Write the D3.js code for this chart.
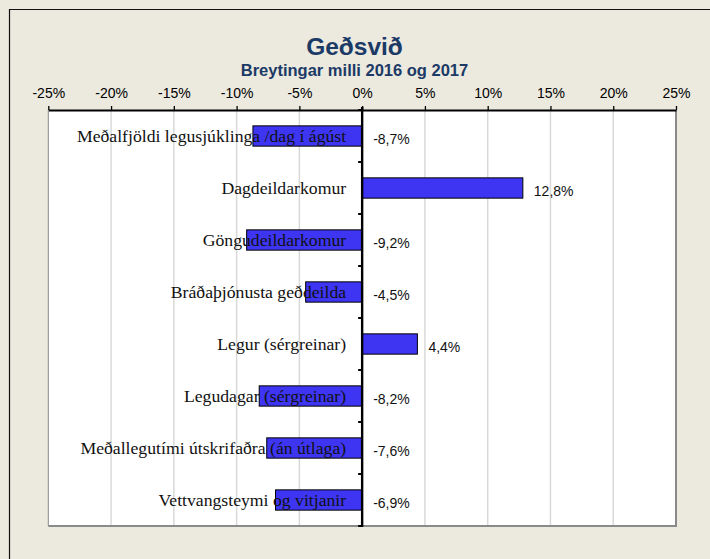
<!DOCTYPE html>
<html>
<head>
<meta charset="utf-8">
<script src="https://cdn.jsdelivr.net/npm/d3@7"></script>
<style>
  html, body { margin: 0; padding: 0; background: #ECE9DF; }
  svg { display: block; }
</style>
</head>
<body>
<svg id="chart" width="710" height="559"></svg>
<script>
// Breytingar milli ára, hlutfall
const categories = [
  "Meðalfjöldi legusjúklinga /dag í ágúst",
  "Dagdeildarkomur",
  "Göngudeildarkomur",
  "Bráðaþjónusta geðdeilda",
  "Legur (sérgreinar)",
  "Legudagar (sérgreinar)",
  "Meðallegutími útskrifaðra (án útlaga)",
  "Vettvangsteymi og vitjanir"
];
const changes = [-0.087, 0.128, -0.092, -0.045, 0.044, -0.082, -0.076, -0.069];
const xTicks = [-0.25, -0.20, -0.15, -0.10, -0.05, 0, 0.05, 0.10, 0.15, 0.20, 0.25];
const title = "Geðsvið";
const subtitle = "Breytingar milli 2016 og 2017";

const isLocale = d3.formatLocale({
  decimal: ",", thousands: ".", grouping: [3], currency: ["", " kr."], minus: "-", percent: "%"
});
const fmtValue = isLocale.format(".1%");
const fmtTick = isLocale.format(".0%");

const svg = d3.select("#chart");
const W = 710, H = 559;
const plot = { left: 48.3, right: 676, top: 110, bottom: 526 };

// outer frame (left and top edge visible)
svg.append("rect").attr("x", 0).attr("y", 0).attr("width", W).attr("height", H).attr("fill", "#ECE9DF");
svg.append("path").attr("d", `M9.5,${H} V9.5 H${W}`).attr("fill", "none").attr("stroke", "#111").attr("stroke-width", 1.2);

const x = d3.scaleLinear().domain([-0.25, 0.25]).range([plot.left, plot.right]);
const y = d3.scaleBand().domain(categories).range([plot.top, plot.bottom])
  .paddingInner(0.61).paddingOuter(0.305);

// plot area
svg.append("rect")
  .attr("x", plot.left).attr("y", plot.top)
  .attr("width", plot.right - plot.left).attr("height", plot.bottom - plot.top)
  .attr("fill", "#fff");

// vertical gridlines
svg.append("g").selectAll("line")
  .data(xTicks.filter(t => t !== 0 && Math.abs(t) < 0.25))
  .join("line")
  .attr("x1", d => x(d)).attr("x2", d => x(d))
  .attr("y1", plot.top).attr("y2", plot.bottom)
  .attr("stroke", "#D9D9D9").attr("stroke-width", 1.5);

// plot border (left, right, bottom)
svg.append("path")
  .attr("d", `M${plot.left},${plot.top} V${plot.bottom}`)
  .attr("stroke", "#8a8a8a").attr("stroke-width", 1).attr("fill", "none");
svg.append("path")
  .attr("d", `M${plot.left},${plot.bottom} H${plot.right} V${plot.top}`)
  .attr("stroke", "#8a8a8a").attr("stroke-width", 2).attr("fill", "none");

// bars
svg.append("g").selectAll("rect")
  .data(changes)
  .join("rect")
  .attr("x", d => x(Math.min(0, d)))
  .attr("y", (d, i) => y(categories[i]))
  .attr("width", d => Math.abs(x(d) - x(0)))
  .attr("height", y.bandwidth())
  .attr("fill", "#3D35F2")
  .attr("stroke", "#000").attr("stroke-width", 1);

// top value axis
const xAxis = d3.axisTop(x).tickValues(xTicks).tickSize(4).tickSizeOuter(0)
  .tickFormat(d => fmtTick(d));
const gx = svg.append("g").attr("transform", `translate(0,${plot.top})`).call(xAxis);
gx.select(".domain").attr("stroke", "#000").attr("stroke-width", 2);
gx.selectAll(".tick line").attr("stroke", "#000").attr("stroke-width", 1.3);
gx.selectAll(".tick text")
  .attr("font-family", "Liberation Sans, Arial, sans-serif")
  .attr("font-size", 14).attr("fill", "#000").attr("dy", "-0.35em");

// category axis on zero
const yAxis = d3.axisLeft(y).tickSize(0).tickFormat("");
const gy = svg.append("g").attr("transform", `translate(${x(0)},0)`).call(yAxis);
gy.select(".domain").remove();
const step = y.step();
const boundaries = d3.range(categories.length + 1).map(i => plot.top + i * step);
gy.selectAll(".bound").data(boundaries).join("line")
  .attr("class", "bound")
  .attr("x1", -4).attr("x2", 0)
  .attr("y1", d => d).attr("y2", d => d)
  .attr("stroke", "#000").attr("stroke-width", 2);
gy.append("line")
  .attr("x1", 0).attr("x2", 0).attr("y1", plot.top - 3).attr("y2", plot.bottom + 1)
  .attr("stroke", "#000").attr("stroke-width", 2.4);

// category labels
svg.append("g").selectAll("text")
  .data(categories)
  .join("text")
  .attr("x", x(0) - 16)
  .attr("y", d => y(d) + y.bandwidth() / 2 + 6)
  .attr("text-anchor", "end")
  .attr("font-family", "Liberation Serif, Times New Roman, serif")
  .attr("font-size", 17.7)
  .attr("fill", "#111")
  .text(d => d);

// value labels
svg.append("g").selectAll("text")
  .data(changes)
  .join("text")
  .attr("x", d => d < 0 ? x(0) + 11 : x(d) + 11)
  .attr("y", (d, i) => y(categories[i]) + y.bandwidth() / 2 + 3)
  .attr("dominant-baseline", "central")
  .attr("font-family", "Liberation Sans, Arial, sans-serif")
  .attr("font-size", 14)
  .attr("fill", "#111")
  .text(d => fmtValue(d));

// titles
svg.append("text")
  .attr("x", 354.5).attr("y", 54.5)
  .attr("text-anchor", "middle")
  .attr("font-family", "Liberation Sans, Arial, sans-serif")
  .attr("font-weight", "bold").attr("font-size", 24.5)
  .attr("fill", "#1B3A66")
  .text(title);
svg.append("text")
  .attr("x", 354.5).attr("y", 75.5)
  .attr("text-anchor", "middle")
  .attr("font-family", "Liberation Sans, Arial, sans-serif")
  .attr("font-weight", "bold").attr("font-size", 16.5)
  .attr("fill", "#1B3A66")
  .text(subtitle);
</script>
</body>
</html>
